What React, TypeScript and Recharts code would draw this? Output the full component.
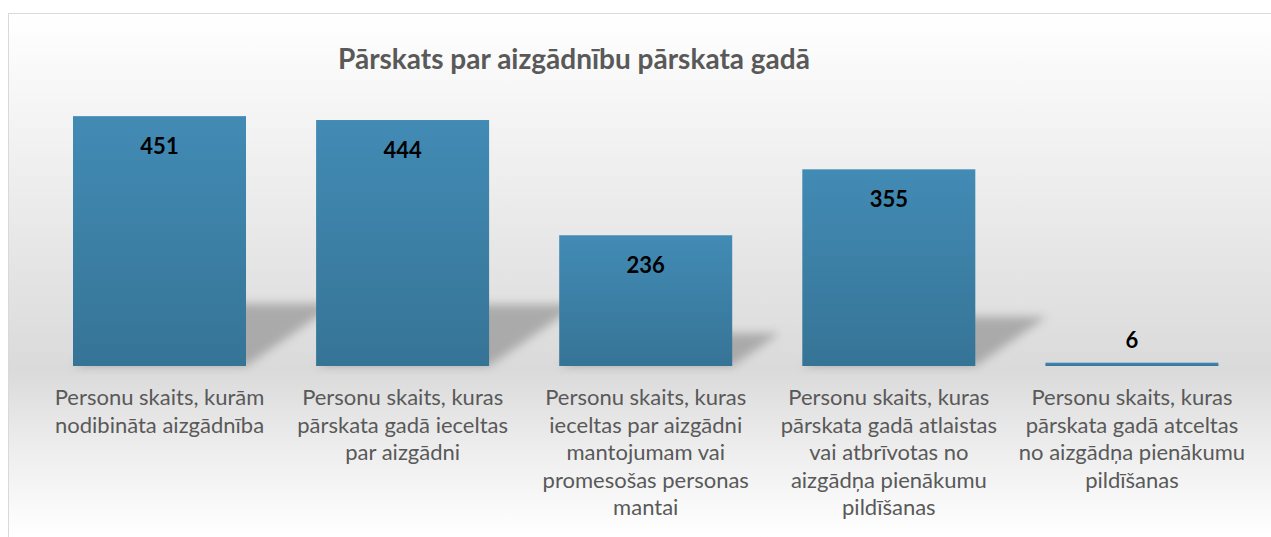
import React from "react";
import { BarChart, Bar, XAxis, YAxis, LabelList } from "recharts";

const categories = [
  "Personu skaits, kurām nodibināta aizgādnība",
  "Personu skaits, kuras pārskata gadā ieceltas par aizgādni",
  "Personu skaits, kuras ieceltas par aizgādni mantojumam vai promesošas personas mantai",
  "Personu skaits, kuras pārskata gadā atlaistas vai atbrīvotas no aizgādņa pienākumu pildīšanas",
  "Personu skaits, kuras pārskata gadā atceltas no aizgādņa pienākumu pildīšanas",
];
const tickLines = [
  ["Personu skaits, kurām", "nodibināta aizgādnība"],
  ["Personu skaits, kuras", "pārskata gadā ieceltas", "par aizgādni"],
  ["Personu skaits, kuras", "ieceltas par aizgādni", "mantojumam vai", "promesošas personas", "mantai"],
  ["Personu skaits, kuras", "pārskata gadā atlaistas", "vai atbrīvotas no", "aizgādņa pienākumu", "pildīšanas"],
  ["Personu skaits, kuras", "pārskata gadā atceltas", "no aizgādņa pienākumu", "pildīšanas"],
];
const values = [451, 444, 236, 355, 6];
const title = "Pārskats par aizgādnību pārskata gadā";

const data = categories.map((c, i) => ({ name: c, idx: i, value: values[i] }));

const FONT = "Lato, 'Open Sans', sans-serif";

const BarShape = (props: any) => {
  const { x, y, width, height } = props;
  const yb = y + height;
  const dy = height * 0.25;
  const dx = dy * 1.45;
  const pts = `${x},${yb} ${x + width},${yb} ${x + width + dx},${yb - dy} ${x + dx},${yb - dy}`;
  return (
    <g>
      {height > 8 && (
        <polygon points={pts} fill="#8f8f8f" opacity={0.65} filter="url(#shadowBlur)" />
      )}
      <rect x={x} y={y} width={width} height={height} fill="url(#barGrad)" />
    </g>
  );
};

const ValueLabel = (props: any) => {
  const { x, y, width, height, value } = props;
  const cx = x + width / 2;
  const inside = height > 40;
  const cy = inside ? y + 30 : y - 23;
  return (
    <text
      x={cx}
      y={cy}
      dy="0.36em"
      textAnchor="middle"
      fontFamily={FONT}
      fontWeight={700}
      fontSize={22}
      fill="#000000"
    >
      {value}
    </text>
  );
};

const CatTick = (props: any) => {
  const { x, y, payload } = props;
  const lines = tickLines[payload.index] || [];
  return (
    <text
      x={x}
      y={y}
      textAnchor="middle"
      fontFamily={FONT}
      fontSize={22}
      fill="#595959"
    >
      {lines.map((l, i) => (
        <tspan key={i} x={x} y={y + 39 + i * 27.5}>
          {l}
        </tspan>
      ))}
    </text>
  );
};

export default function App() {
  return (
    <>
      <style>{`html,body{overflow:hidden;}`}</style>
      <div
        style={{
          position: "absolute",
          left: 8,
          top: 13,
          width: 1263,
          height: 524,
          borderTop: "1px solid #d9d9d9",
          borderLeft: "1px solid #d9d9d9",
          boxSizing: "border-box",
          background:
            "linear-gradient(to bottom, #ffffff 0%, #f5f5f5 18%, #dadada 68%, #ececec 82%, #ffffff 100%)",
        }}
      >
        <div
          style={{
            position: "absolute",
            left: 0,
            width: 1130,
            top: 26,
            textAlign: "center",
            fontFamily: FONT,
            fontWeight: 700,
            fontSize: 28,
            color: "#595959",
            lineHeight: "36px",
            whiteSpace: "nowrap",
          }}
        >
          {title}
        </div>
        <div style={{ position: "absolute", left: -1, top: -1 }}>
          <BarChart
            width={1263}
            height={524}
            data={data}
            margin={{ top: 76, right: 17.5, bottom: 0, left: 30 }}
            barCategoryGap="14.4%"
          >
            <defs>
              <linearGradient id="barGrad" x1="0" y1="0" x2="0" y2="1">
                <stop offset="0%" stopColor="#428BB5" />
                <stop offset="100%" stopColor="#367496" />
              </linearGradient>
              <filter id="shadowBlur" x="-20%" y="-30%" width="140%" height="160%">
                <feGaussianBlur stdDeviation="5" />
              </filter>
            </defs>
            <XAxis
              dataKey="name"
              height={171}
              axisLine={false}
              tickLine={false}
              tickSize={0}
              tickMargin={0}
              interval={0}
              tick={<CatTick />}
            />
            <YAxis hide domain={[0, 500]} />
            <Bar dataKey="value" isAnimationActive={false} shape={<BarShape />}>
              <LabelList dataKey="value" content={<ValueLabel />} />
            </Bar>
          </BarChart>
        </div>
      </div>
    </>
  );
}
